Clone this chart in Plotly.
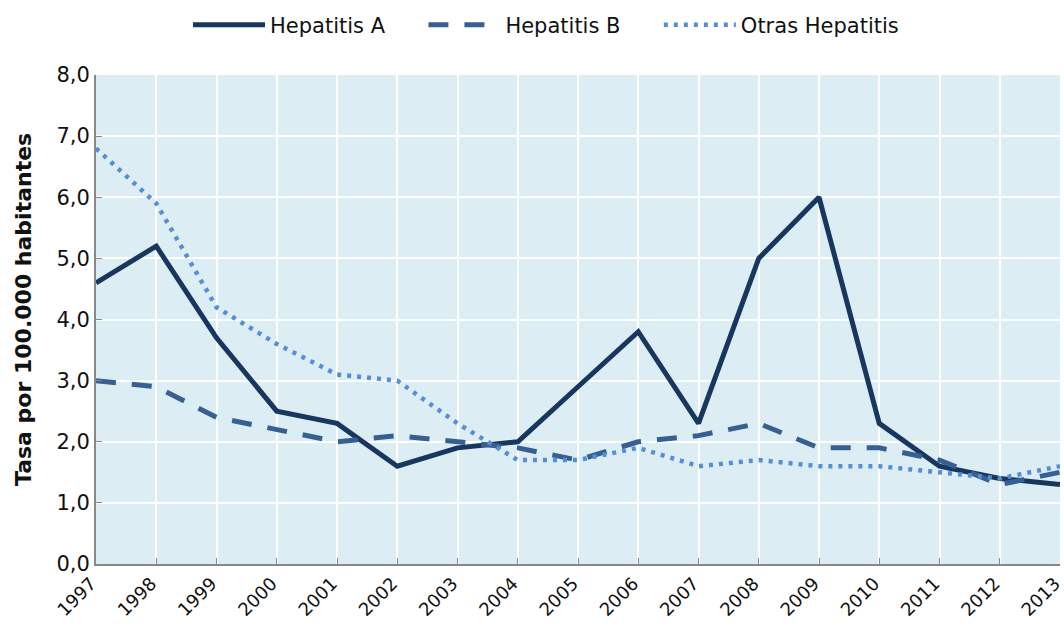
import plotly.graph_objects as go

years = list(range(1997, 2014))
hep_a = [4.6, 5.2, 3.7, 2.5, 2.3, 1.6, 1.9, 2.0, 2.9, 3.8, 2.3, 5.0, 6.0, 2.3, 1.6, 1.4, 1.3]
hep_b = [3.0, 2.9, 2.4, 2.2, 2.0, 2.1, 2.0, 1.9, 1.7, 2.0, 2.1, 2.3, 1.9, 1.9, 1.7, 1.3, 1.5]
otras = [6.8, 5.9, 4.2, 3.6, 3.1, 3.0, 2.3, 1.7, 1.7, 1.9, 1.6, 1.7, 1.6, 1.6, 1.5, 1.4, 1.6]
series_names = ["Hepatitis A", "Hepatitis B", "Otras Hepatitis"]
y_title = "Tasa por 100.000 habitantes"

FONT = "DejaVu Sans"
PAD = "\u00a0" * 5  # spacing between legend entries

fig = go.Figure()
fig.add_trace(go.Scatter(x=years, y=hep_a, name=series_names[0] + PAD, mode="lines",
                         line=dict(color="#17375E", width=5, dash="solid")))
fig.add_trace(go.Scatter(x=years, y=hep_b, name=series_names[1] + PAD, mode="lines",
                         line=dict(color="#376092", width=5, dash="20px,16px")))
fig.add_trace(go.Scatter(x=years, y=otras, name=series_names[2], mode="lines",
                         line=dict(color="#558ED5", width=4.5, dash="4px,6px")))

fig.update_layout(
    width=1064, height=628,
    margin=dict(l=96, r=4, t=75, b=64, autoexpand=False),
    paper_bgcolor="white",
    plot_bgcolor="#DCEEF4",
    separators=",.",
    font=dict(family=FONT, size=20, color="#111111"),
    showlegend=True,
    legend=dict(orientation="h", x=(188 - 96) / 964, xanchor="left", y=1.102, yanchor="middle",
                font=dict(family=FONT, size=21, color="#111111"),
                itemwidth=72, tracegroupgap=0, bgcolor="rgba(0,0,0,0)"),
    xaxis=dict(range=[1997, 2013], tickmode="array", tickvals=years,
               ticktext=[str(y) for y in years], tickangle=-45,
               showgrid=True, gridcolor="white", gridwidth=2,
               showline=True, linecolor="#888888", linewidth=2,
               ticks="inside", ticklen=6, tickcolor="#888888",
               tickfont=dict(family=FONT, size=18, color="#111111"),
               ticklabelshift=-5,
               ticklabeloverflow="allow", automargin=False,
               zeroline=False),
    yaxis=dict(range=[0, 8], tickmode="linear", tick0=0, dtick=1, tickformat=".1f",
               showgrid=True, gridcolor="white", gridwidth=2,
               showline=True, linecolor="#888888", linewidth=2,
               ticks="inside", ticklen=6, tickcolor="#888888",
               tickfont=dict(family=FONT, size=21, color="#111111"),
               automargin=False, zeroline=False),
    annotations=[dict(text="<b>" + y_title + "</b>", xref="paper", yref="paper",
                      x=(23 - 96) / 964, y=(564 - 310) / 489, xanchor="center", yanchor="middle",
                      textangle=-90, showarrow=False,
                      font=dict(family=FONT, size=22, color="#111111"))],
)

fig.write_html("out.html", config={"displayModeBar": False},
               post_script="document.body.style.margin='0';document.body.style.overflow='hidden';")
